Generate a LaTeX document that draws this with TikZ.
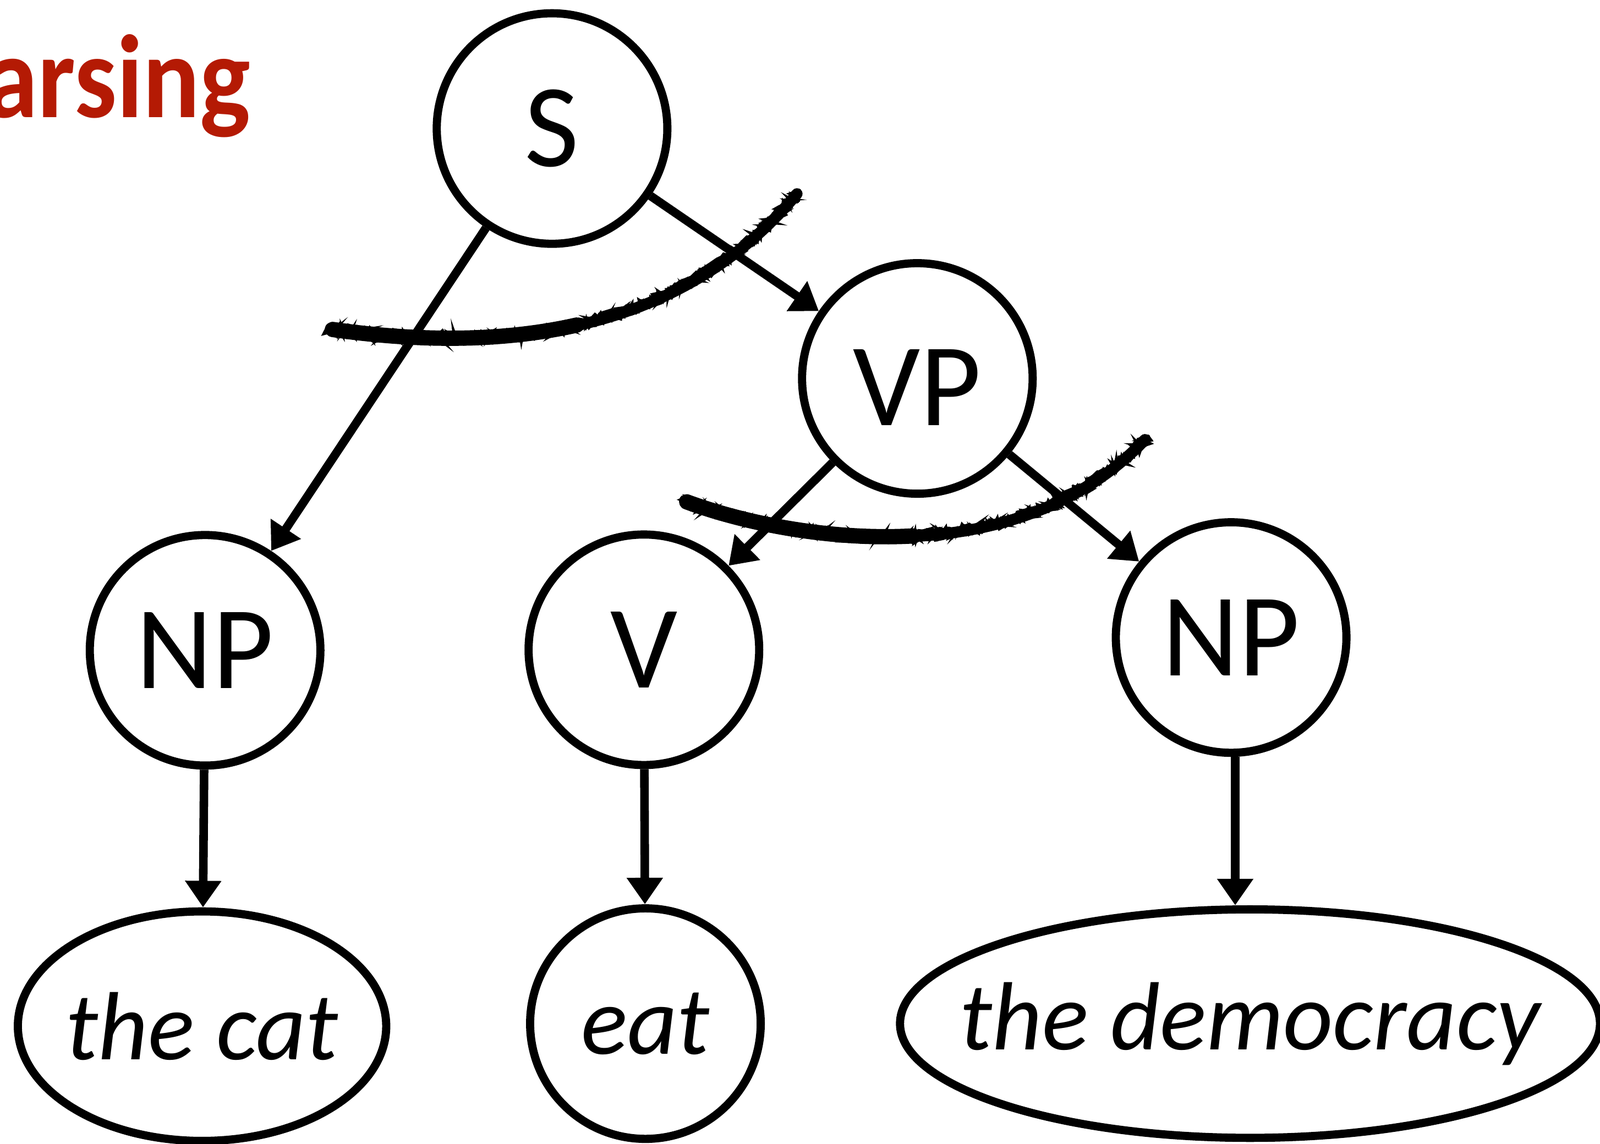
\documentclass[tikz,border=0pt]{standalone}
\usepackage{fontspec}
\setmainfont{Carlito}
\usetikzlibrary{arrows.meta,shapes.geometric,decorations.pathmorphing}
\definecolor{titlered}{RGB}{180,26,4}
\begin{document}
\begin{tikzpicture}[x=0.5pt,y=-0.5pt,
  cnode/.style={draw,circle,line width=4pt,minimum size=113pt,inner sep=0pt,
    font=\fontsize{58}{60}\selectfont},
  lnode/.style={draw,ellipse,line width=4pt,inner sep=0pt,
    font=\fontsize{47.5}{50}\selectfont\itshape},
  edge/.style={line width=4.2pt,-{Triangle[length=13pt,width=17pt]}},
  scribble/.style={line width=#1,line cap=round,decorate,
    decoration={random steps,segment length=2pt,amplitude=3pt}}]
\useasboundingbox (0,0) rectangle (1568,1121.5);
% title (clipped at the left edge)
\node[anchor=base east,inner sep=0pt,text=titlered,
  font=\fontsize{58}{60}\selectfont\bfseries] (title) at (246,115) {\scalebox{0.9}[1]{Parsing}};
% nodes
\node[cnode] (S) at (541,126) {S};
\node[cnode] (VP) at (899,371) {\raisebox{-4.5pt}[\height][\depth]{VP}};
\node[cnode] (NPl) at (201,637.5) {NP};
\node[cnode] (V) at (631,637) {V};
\node[cnode] (NPr) at (1206.5,625) {NP};
\node[lnode,minimum width=180.5pt,minimum height=112.5pt] (cat) at (198,1006) {\makebox[0pt]{the cat}};
\node[cnode] (eat) at (632.5,1003.5) {\fontsize{47.5}{50}\selectfont\itshape eat};
\node[lnode,minimum width=343pt,minimum height=112pt] (dem) at (1225,1003.5) {\makebox[0pt]{the democracy}};
% edges
\draw[edge] (S) -- (NPl);
\draw[edge] (S) -- (VP);
\draw[edge] (VP) -- (V);
\draw[edge] (VP) -- (NPr);
\draw[edge] (NPl) -- (cat);
\draw[edge] (V) -- (eat);
\draw[edge] ([xshift=2pt]NPr.south) -- ([xshift=2pt]NPr.south |- dem.north);
% scribbles: solid core, thicker left half, rough overlays
\draw[line width=5.5pt,line cap=round] (324,322) .. controls (480,345) and (660,335) .. (781,190);
\draw[line width=7.5pt,line cap=round] (326,323) .. controls (400,333.5) and (485,336.75) .. (565,318.7);
\draw[line width=5.5pt,line cap=round] (671,491) .. controls (790,535) and (1000,560) .. (1122,431);
\draw[line width=7.5pt,line cap=round] (673,492) .. controls (728.5,512.5) and (811.75,530) .. (895,525.4);
\foreach \w in {1.6pt,1.5pt,1.4pt,1.3pt,1.2pt,1.1pt,1pt,0.9pt}{
  \draw[scribble=\w] (320,322) .. controls (480,345) and (660,335) .. (783,187);
  \draw[scribble=\w] (667,490) .. controls (790,535) and (1000,560) .. (1125,428);
}
\end{tikzpicture}
\end{document}
